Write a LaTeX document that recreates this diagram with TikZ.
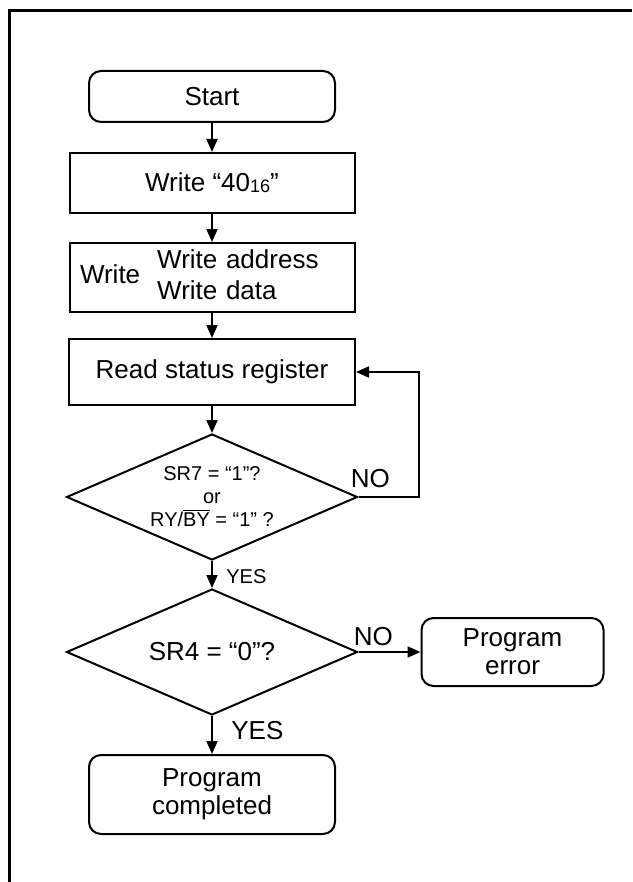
\documentclass[tikz,border=0pt]{standalone}
\usepackage{fontspec}
\setmainfont{Liberation Sans}
\usetikzlibrary{positioning,arrows.meta,shapes.geometric}

\begin{document}
\begin{tikzpicture}[
    x=0.5pt, y=-0.5pt,
    node distance=13.5pt,
    every node/.style={font=\fontsize{13}{15.5}\selectfont},
    term/.style={rectangle, rounded corners=6pt, draw, line width=1pt,
                 minimum width=123pt, align=center,
                 font=\fontsize{13}{14}\selectfont},
    proc/.style={rectangle, draw, line width=1pt, minimum width=142.5pt},
    decide/.style={diamond, draw, line width=1pt, aspect=2.3, inner sep=0pt,
                   minimum width=145.5pt, minimum height=63pt, align=center},
    arrow/.style={-{Triangle[length=6.5pt,width=5.5pt]}, line width=1pt},
    lbl/.style={inner sep=0pt},
]
\useasboundingbox (0,0) rectangle (632,882);

% Frame
\draw[line width=1.5pt] (9,882) -- (9,11) -- (632,11);

% Main flow
\node[term, minimum height=25.5pt] (start) at (212,96.5) {Start};
\node[proc, minimum height=30pt, below=14.5pt of start] (write40) {Write “40\raisebox{-0.5pt}{\fontsize{9}{9}\selectfont 16}”};
\node[proc, minimum height=34.5pt, inner ysep=1.5pt, text width=132pt, align=left, below=14pt of write40] (writeaddr)
    {Write\hspace{8.5pt}\begin{tabular}{@{}l@{}}Write address\\Write data\end{tabular}};
\node[proc, minimum height=33pt, minimum width=143pt, below=12.5pt of writeaddr] (readsr) {Read status register};
\node[decide, font=\fontsize{10}{11.5}\selectfont, below=of readsr] (chksr7)
    {SR7 = “1”?\\or\\RY/$\overline{\mbox{BY}}$ = “1” ?};
\node[decide, below=of chksr7] (chksr4) {SR4 = “0”?};
\node[term, minimum height=39.5pt, below=19pt of chksr4] (done) {Program\\completed};
\node[term, minimum width=91pt, minimum height=34pt, right=31pt of chksr4] (err) {Program\\error};

% Arrows
\draw[arrow] (start) -- (write40);
\draw[arrow] (write40) -- (writeaddr);
\draw[arrow] (writeaddr) -- (readsr);
\draw[arrow] (readsr) -- (chksr7);
\draw[arrow] (chksr7) -- (chksr4);
\draw[arrow] (chksr4) -- (done);
\draw[arrow] (chksr4) -- (err);
\draw[arrow] (chksr7.east) -- ++(60,0) |- (readsr.east);

% Branch labels
\node[lbl, above right=4.5pt and -4pt of chksr7.east] (no1) {NO};
\node[lbl, font=\fontsize{10}{12}\selectfont, below right=4pt and 7pt of chksr7.south] (yes1) {YES};
\node[lbl, above right=3pt and -2.5pt of chksr4.east] (no2) {NO};
\node[lbl, below right=2.5pt and 9.5pt of chksr4.south] (yes2) {YES};

\end{tikzpicture}
\end{document}
